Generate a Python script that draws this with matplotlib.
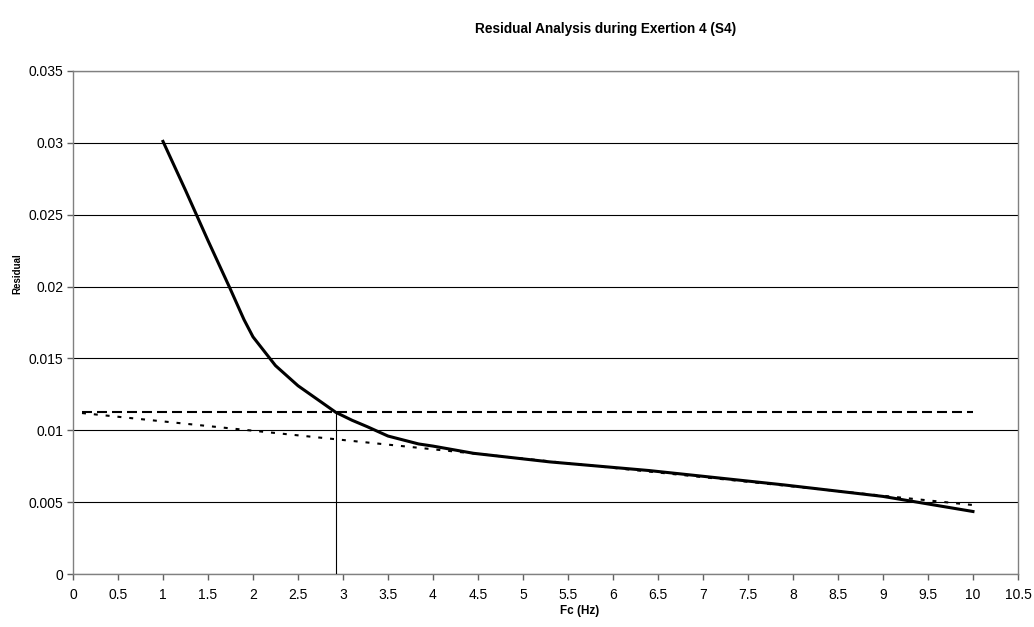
import numpy as np
import matplotlib
matplotlib.use("Agg")
import matplotlib.pyplot as plt

plt.rcParams['font.family'] = ['Liberation Sans', 'DejaVu Sans']

# residual vs cutoff frequency
fc = [1.0, 1.25, 1.5, 1.75, 1.9, 2.0, 2.1, 2.25, 2.5, 2.75, 2.92, 3.1, 3.27, 3.5, 3.84, 4.0,
      4.45, 5.3, 6.4, 7.9, 9.0, 10.0]
residual = [0.0301, 0.0267, 0.0232, 0.0198, 0.0177, 0.0165, 0.0157, 0.0145, 0.0131, 0.0120,
            0.01125, 0.0107, 0.01025, 0.0096, 0.00905, 0.0089, 0.0084, 0.0078, 0.0072, 0.0062,
            0.0054, 0.00435]

# regression line through the high-frequency residuals
fit_x = [0.1, 10.0]
fit_y = [0.0112, 0.0048]

# noise level (intercept) and chosen cutoff
noise_x = [0.1, 10.0]
noise_y = [0.01125, 0.01125]
cutoff = 2.92

fig = plt.figure(figsize=(10.34, 6.27), dpi=100)
ax = fig.add_axes([0.0706, 0.0845, 0.9139, 0.8023])

ax.plot(fc, residual, color='black', lw=2.2, solid_joinstyle='round', zorder=4)
ax.plot(fit_x, fit_y, color='black', lw=1.5, linestyle=(0, (1.9, 3.8)), zorder=3)
ax.plot(noise_x, noise_y, color='black', lw=1.5, linestyle=(0, (4.8, 2.4)), zorder=3)
ax.plot([cutoff, cutoff], [0, noise_y[0]], color='black', lw=0.8, zorder=3)

ax.set_xlim(0, 10.5)
ax.set_ylim(0, 0.035)
ax.set_xticks(np.arange(0, 10.51, 0.5))
ax.set_xticklabels([f'{v:g}' for v in np.arange(0, 10.51, 0.5)])
ax.set_yticks(np.arange(0, 0.0351, 0.005))
ax.set_yticklabels(['0', '0.005', '0.01', '0.015', '0.02', '0.025', '0.03', '0.035'])

ax.yaxis.grid(True, color='black', lw=0.8)
ax.set_axisbelow(True)
for s in ax.spines.values():
    s.set_color('#808080')
    s.set_linewidth(1.0)
ax.tick_params(direction='out', length=4, width=1, color='#606060', labelsize=10)
ax.tick_params(axis='x', pad=6)
ax.tick_params(axis='y', pad=3)

fig.text(0.586, 0.954, 'Residual Analysis during Exertion 4 (S4)', ha='center', va='center',
         fontsize=9.8, fontweight='bold')
fig.text(0.0165, 0.563, 'Residual', rotation=90, ha='center', va='center',
         fontsize=7, fontweight='bold')
fig.text(0.561, 0.026, 'Fc (Hz)', ha='center', va='center', fontsize=8.5, fontweight='bold')

fig.savefig('out.png', dpi=100)
